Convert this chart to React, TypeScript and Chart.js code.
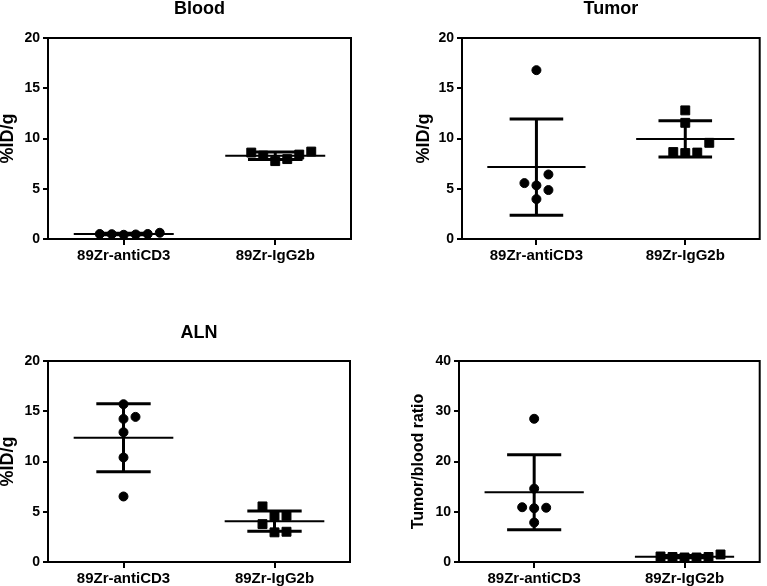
import { useEffect, useRef } from 'react';
import { Chart, registerables } from 'chart.js';

Chart.register(...registerables);

const categories = ['89Zr-antiCD3', '89Zr-IgG2b'];

const bloodAntiCD3 = [0.48, 0.5, 0.42, 0.45, 0.5, 0.62];
const bloodIgG2b = [8.6, 8.3, 7.75, 7.95, 8.4, 8.7];
const tumorAntiCD3 = [16.8, 5.56, 5.33, 6.42, 4.87, 3.97];
const tumorIgG2b = [12.8, 11.56, 9.57, 8.55, 8.6, 8.65];
const alnAntiCD3 = [15.7, 14.44, 14.24, 12.91, 10.4, 6.52];
const alnIgG2b = [5.53, 4.6, 4.54, 3.77, 2.95, 3.01];
const ratioAntiCD3 = [28.5, 14.6, 10.7, 10.8, 10.9, 7.85];
const ratioIgG2b = [1.1, 1.0, 0.9, 0.9, 1.0, 1.5];

const pctTicks = [0, 5, 10, 15, 20];
const ratioTicks = [0, 10, 20, 30, 40];

const FONT = "'Liberation Sans', Arial, Helvetica, sans-serif";
const DOT_GAP = 12; // px between neighbouring dots of a swarm row
const MEAN_HALF = 0.33; // half width of the mean line, in category units
const CAP_HALF = 0.18; // half width of the SD caps

Chart.defaults.font.family = FONT;
Chart.defaults.color = '#000';

const mean = (a: number[]) => a.reduce((s, v) => s + v, 0) / a.length;
const sd = (a: number[]) => {
  const m = mean(a);
  return Math.sqrt(a.reduce((s, v) => s + (v - m) ** 2, 0) / (a.length - 1));
};

// column scatter: each value goes to the free slot nearest the centre
function swarm(values: number[], group: number, x: any, y: any) {
  const unit = 1 / (x.getPixelForValue(1) - x.getPixelForValue(0));
  const slots = [0, 1, -1, 2, -2, 3, -3, 4, -4];
  const placed: { px: number; py: number }[] = [];
  const out: { x: number; y: number }[] = new Array(values.length);
  const order = values.map((_, i) => i).sort((a, b) => values[a] - values[b]);
  for (const i of order) {
    const py = y.getPixelForValue(values[i]);
    for (const s of slots) {
      const px = s * DOT_GAP;
      if (placed.every((p) => Math.hypot(p.px - px, p.py - py) >= DOT_GAP)) {
        placed.push({ px, py });
        out[i] = { x: group + px * unit, y: values[i] };
        break;
      }
    }
  }
  return out;
}

type PanelProps = {
  title?: string;
  yLabel: string;
  yLabelSize: number;
  groups: number[][];
  yTicks: number[];
  left: number;
  top: number;
  width: number;
  height: number;
  pad: { left: number; right: number; top: number };
  titleGap: number;
  yWidth: number;
  xHeight: number;
};

const Panel = (p: PanelProps) => {
  const canvasRef = useRef<HTMLCanvasElement>(null);
  const chartRef = useRef<Chart | null>(null);

  useEffect(() => {
    if (!canvasRef.current) return;
    if (chartRef.current) chartRef.current.destroy();

    const meanSd = {
      id: 'meanSd',
      afterDatasetsDraw(chart: any) {
        const { ctx, scales } = chart;
        const { x, y } = scales;
        ctx.save();
        ctx.strokeStyle = '#000';
        ctx.lineCap = 'butt';
        p.groups.forEach((vals, g) => {
          const m = mean(vals);
          const s = sd(vals);
          const line = (x1: number, y1: number, x2: number, y2: number, w: number) => {
            ctx.lineWidth = w;
            ctx.beginPath();
            ctx.moveTo(x1, y1);
            ctx.lineTo(x2, y2);
            ctx.stroke();
          };
          const cx = x.getPixelForValue(g);
          line(x.getPixelForValue(g - MEAN_HALF), y.getPixelForValue(m), x.getPixelForValue(g + MEAN_HALF), y.getPixelForValue(m), 2);
          line(cx, y.getPixelForValue(m - s), cx, y.getPixelForValue(m + s), 3);
          for (const e of [m - s, m + s]) {
            line(x.getPixelForValue(g - CAP_HALF), y.getPixelForValue(e), x.getPixelForValue(g + CAP_HALF), y.getPixelForValue(e), 3);
          }
        });
        ctx.restore();
      },
    };

    const frame = {
      id: 'frame',
      afterDraw(chart: any) {
        const { ctx, chartArea: a } = chart;
        ctx.save();
        ctx.strokeStyle = '#000';
        ctx.lineWidth = 2;
        ctx.strokeRect(a.left, a.top, a.right - a.left, a.bottom - a.top);
        ctx.restore();
      },
    };

    const chart = new Chart(canvasRef.current, {
      type: 'scatter',
      data: {
        datasets: p.groups.map((vals, g) => ({
          data: vals.map((v) => ({ x: g, y: v })),
          pointStyle: g === 0 ? 'circle' : 'rect',
          pointRadius: g === 0 ? 4.5 : 6.3,
          borderWidth: 1,
          backgroundColor: '#000',
          borderColor: '#000',
        })),
      },
      options: {
        responsive: false,
        animation: false,
        layout: { padding: { left: p.pad.left, right: p.pad.right, top: p.pad.top, bottom: 0 } },
        plugins: {
          legend: { display: false },
          tooltip: { enabled: false },
          title: {
            display: !!p.title,
            text: p.title || '',
            color: '#000',
            fullSize: false,
            font: { size: 18, weight: 'bold', lineHeight: 0.85 },
            padding: { top: 1, bottom: p.titleGap - 1 },
          },
        },
        scales: {
          x: {
            type: 'linear',
            min: -0.5,
            max: 1.5,
            afterBuildTicks: (s: any) => {
              s.ticks = categories.map((_, i) => ({ value: i }));
            },
            afterFit: (s: any) => {
              s.height = p.xHeight;
            },
            ticks: {
              callback: (v: any) => categories[v as number],
              color: '#000',
              font: { size: 15, weight: 'bold' },
              padding: 2,
              maxRotation: 0,
              autoSkip: false,
            },
            grid: { drawOnChartArea: false, drawTicks: true, tickLength: 6, lineWidth: 2, color: '#000' },
            border: { display: false },
          },
          y: {
            type: 'linear',
            min: 0,
            max: p.yTicks[p.yTicks.length - 1],
            afterBuildTicks: (s: any) => {
              s.ticks = p.yTicks.map((v) => ({ value: v }));
            },
            afterFit: (s: any) => {
              s.width = p.yWidth;
            },
            ticks: { color: '#000', font: { size: 14, weight: 'bold' }, padding: 3 },
            grid: { drawOnChartArea: false, drawTicks: true, tickLength: 5, lineWidth: 2, color: '#000' },
            border: { display: false },
            title: {
              display: true,
              text: p.yLabel,
              color: '#000',
              font: { size: p.yLabelSize, weight: 'bold', lineHeight: 0.85 },
              padding: 0,
            },
          },
        },
      },
      plugins: [meanSd, frame],
    });

    const { x, y } = chart.scales;
    p.groups.forEach((vals, g) => {
      chart.data.datasets[g].data = swarm(vals, g, x, y);
    });
    chart.update();
    chartRef.current = chart;

    return () => {
      if (chartRef.current) {
        chartRef.current.destroy();
        chartRef.current = null;
      }
    };
  }, []);

  return (
    <div style={{ position: 'absolute', left: p.left, top: p.top, width: p.width, height: p.height }}>
      <canvas ref={canvasRef} width={p.width} height={p.height} style={{ display: 'block' }} />
    </div>
  );
};

const App = () => {
  return (
    <div style={{ position: 'fixed', left: 0, top: 0, width: 767, height: 586, background: '#fff' }}>
      <Panel
        title="Blood"
        yLabel="%ID/g"
        yLabelSize={18}
        groups={[bloodAntiCD3, bloodIgG2b]}
        yTicks={pctTicks}
        left={0}
        top={0}
        width={383}
        height={293}
        pad={{ left: 0, right: 32, top: 0 }}
        titleGap={22.7}
        yWidth={48}
        xHeight={54}
      />
      <Panel
        title="Tumor"
        yLabel="%ID/g"
        yLabelSize={18}
        groups={[tumorAntiCD3, tumorIgG2b]}
        yTicks={pctTicks}
        left={383}
        top={0}
        width={384}
        height={293}
        pad={{ left: 33, right: 3, top: 0 }}
        titleGap={22.7}
        yWidth={46}
        xHeight={54}
      />
      <Panel
        title="ALN"
        yLabel="%ID/g"
        yLabelSize={18}
        groups={[alnAntiCD3, alnIgG2b]}
        yTicks={pctTicks}
        left={0}
        top={293}
        width={383}
        height={293}
        pad={{ left: 0, right: 33, top: 31 }}
        titleGap={21.7}
        yWidth={48}
        xHeight={24}
      />
      <Panel
        yLabel="Tumor/blood ratio"
        yLabelSize={16}
        groups={[ratioAntiCD3, ratioIgG2b]}
        yTicks={ratioTicks}
        left={383}
        top={293}
        width={384}
        height={293}
        pad={{ left: 29, right: 5, top: 68 }}
        titleGap={0}
        yWidth={47}
        xHeight={24}
      />
    </div>
  );
};

export default App;
